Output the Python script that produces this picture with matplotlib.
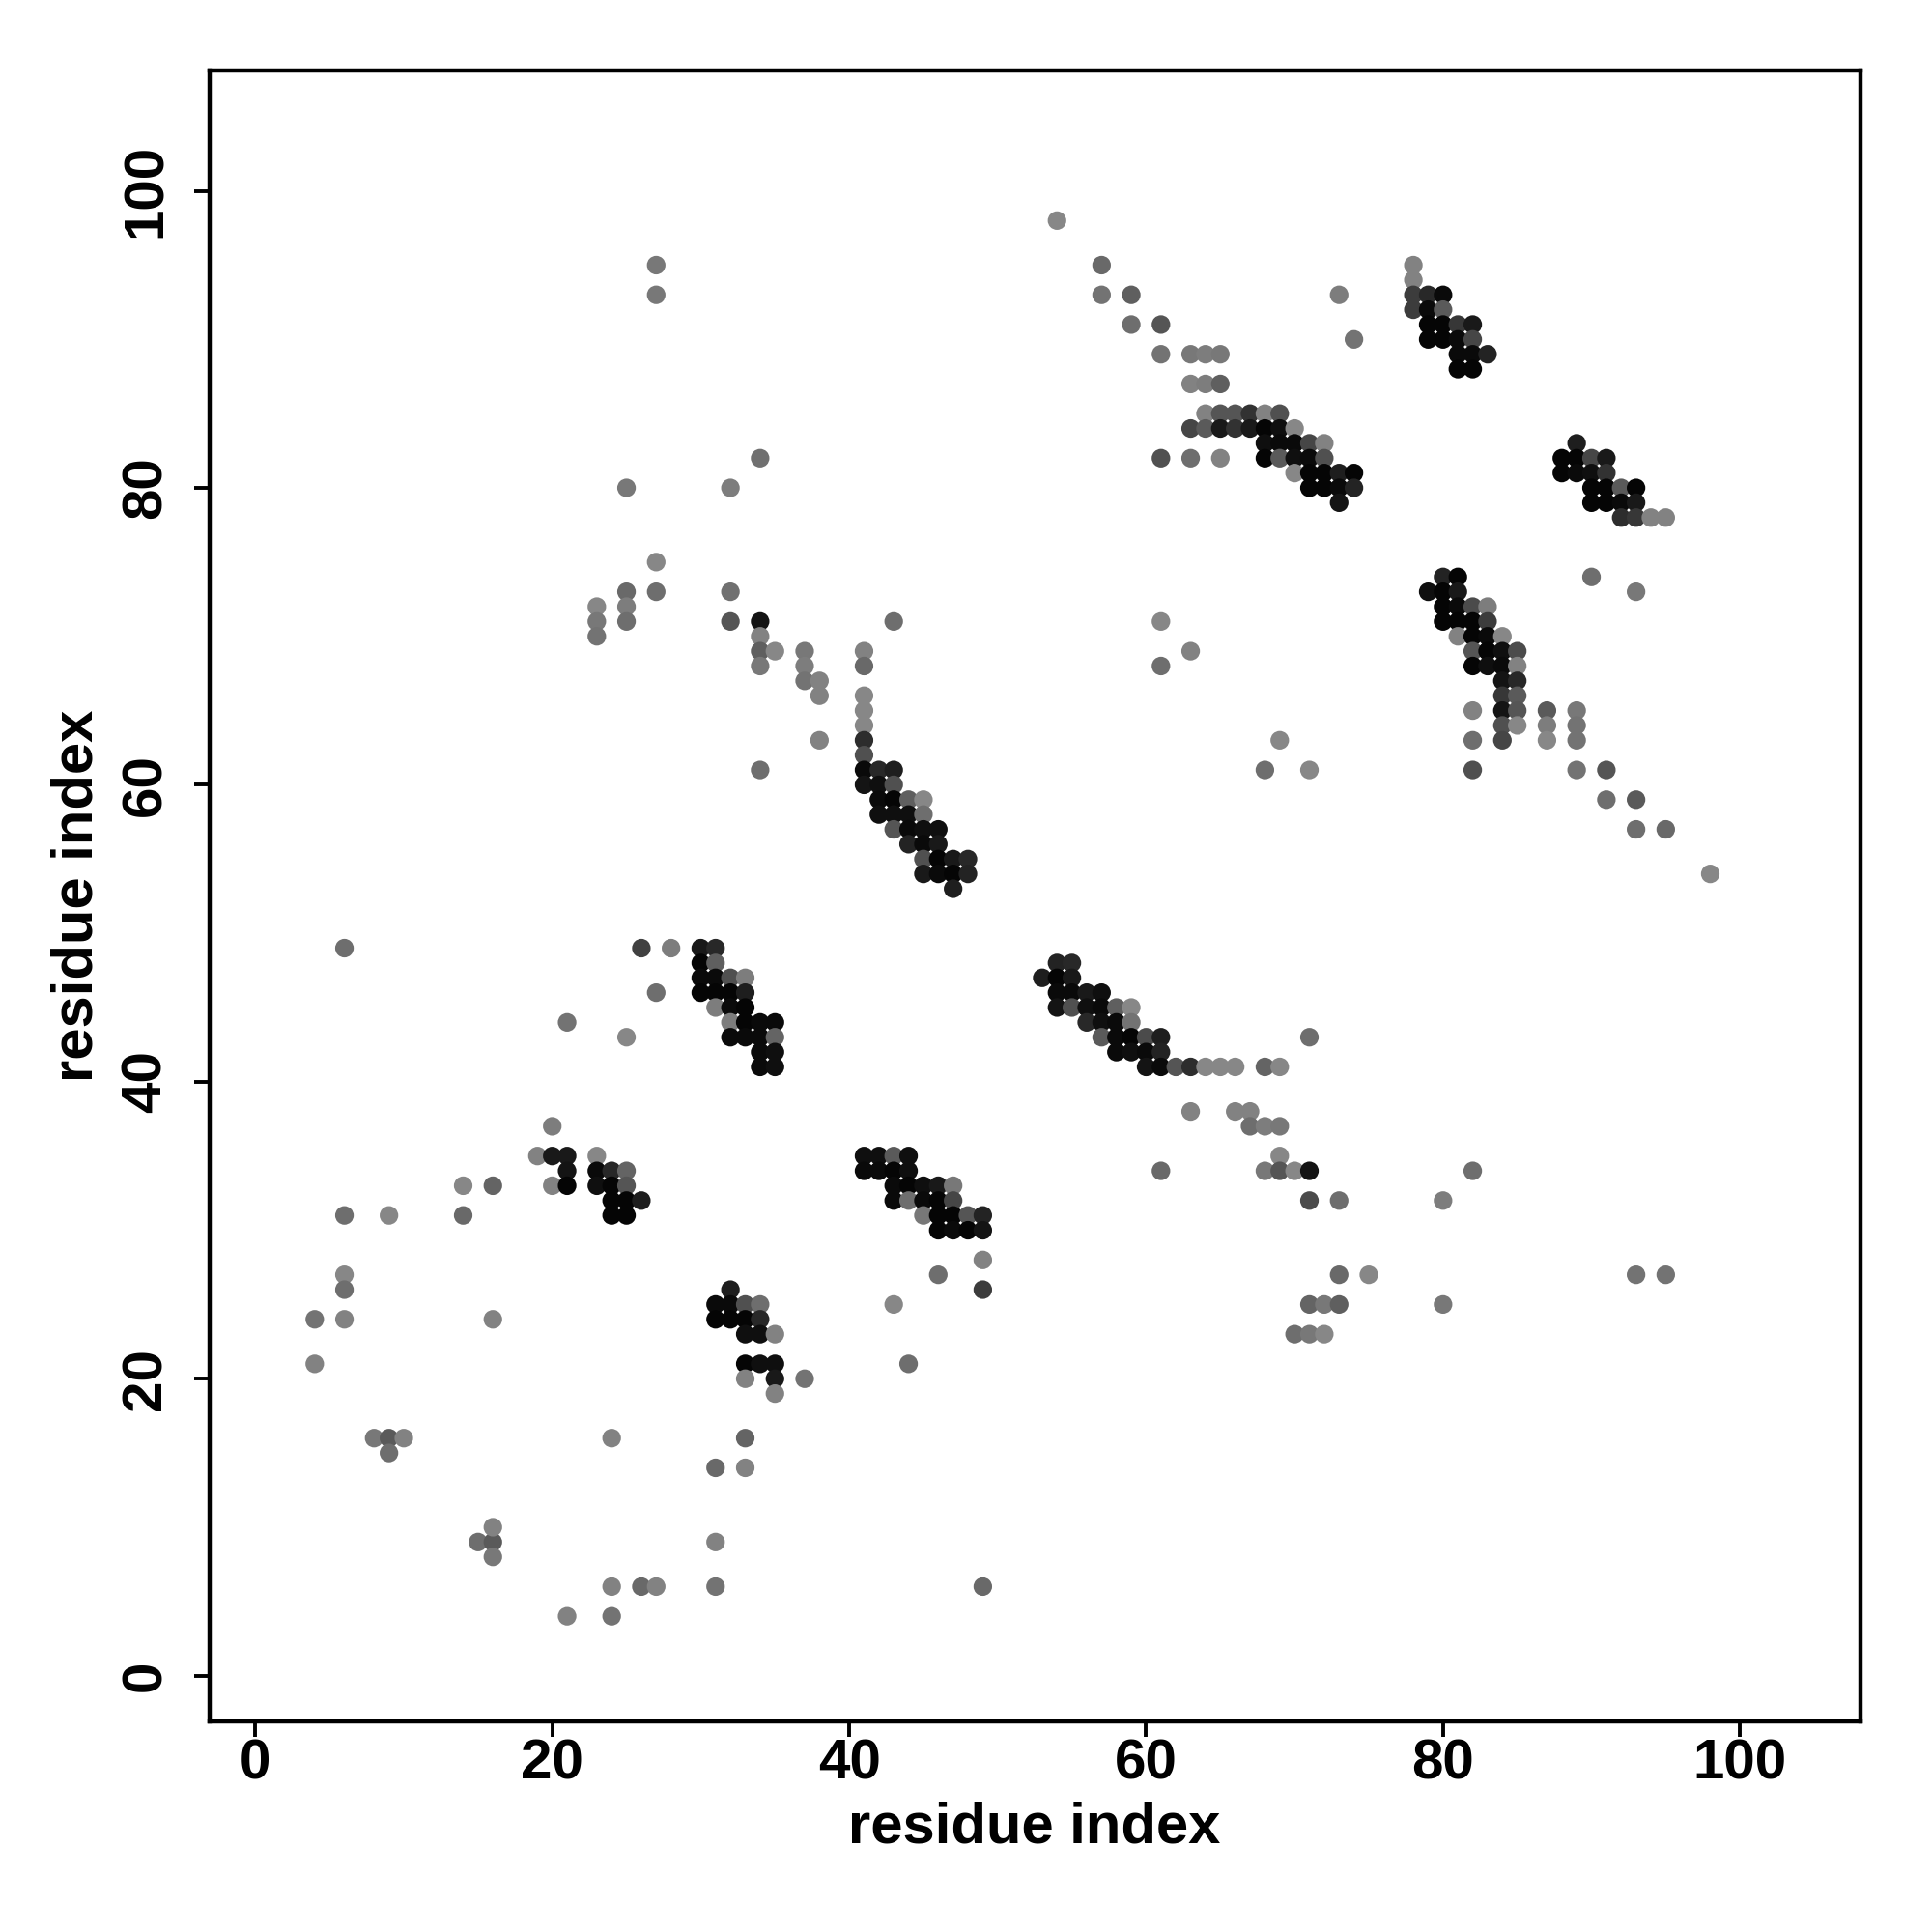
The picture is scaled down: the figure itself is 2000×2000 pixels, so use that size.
import matplotlib
matplotlib.use("Agg")
import matplotlib.pyplot as plt

# ---- contact data: residue i, residue j, grey level (0 = black, 255 = white) ----
res_i = [
    # scattered, lower left
    4, 4, 6, 6, 6, 6, 8, 9, 10, 9, 9, 14, 14, 16, 16, 15, 16, 16, 16,
    21, 24, 24, 26, 27, 31, 31, 31, 33, 33, 24, 37,
    # cluster 19-26 x 31-37
    20, 19, 20, 21, 23, 21, 23, 24, 25, 20, 21, 23, 24, 25, 24, 25, 26, 24, 25,
    # cluster 31-35 x 19-26
    32, 31, 32, 33, 34, 31, 32, 33, 34, 33, 34, 35, 33, 34, 35, 33, 35, 35,
    # cluster 26-35 x 41-49
    6, 21, 25, 26, 28, 30, 31, 30, 31, 30, 31, 32, 33, 27, 30, 31, 32, 33,
    31, 32, 33, 32, 33, 34, 35, 32, 33, 34, 35, 34, 35, 34, 35,
    # cluster 41-49 x 26-35
    41, 42, 43, 44, 41, 42, 43, 44, 43, 44, 45, 46, 47, 43, 44, 45, 46, 47,
    45, 46, 47, 48, 49, 46, 47, 48, 49, 49, 46, 49, 43, 44, 49,
    # scattered, upper left
    27, 27, 34, 25, 32, 27, 25, 27, 32, 23, 23, 23, 25, 25, 32, 34, 34, 34, 35, 34,
    34, 37, 37, 37, 38, 38, 38, 43,
    # cluster 41-48 x 53-69
    41, 41, 41, 41, 41, 41, 41, 41, 42, 43, 41, 42, 43, 42, 43, 44, 45,
    42, 43, 44, 45, 43, 44, 45, 46, 44, 45, 46, 45, 46, 47, 48, 45, 46, 47, 48, 47,
    # cluster 53-71 x 32-48
    54, 55, 53, 54, 55, 54, 55, 56, 57, 54, 55, 56, 57, 58, 59, 56, 57, 58, 59,
    57, 58, 59, 60, 61, 58, 59, 60, 61, 60, 61, 62, 63, 64, 65, 66, 68, 69,
    71, 63, 66, 67, 67, 68, 69, 69, 61, 68, 69, 70, 71, 82, 71, 73, 80,
    # scattered, lower right
    73, 75, 93, 95, 71, 72, 73, 80, 70, 71, 72,
    # upper middle band
    54, 57, 57, 59, 59, 61, 61, 63, 64, 65, 63, 64, 65,
    64, 65, 66, 67, 68, 69, 63, 64, 65, 66, 67, 68, 69, 70,
    68, 69, 70, 71, 72, 61, 63, 65, 68, 69, 70, 71, 72,
    70, 71, 72, 73, 74, 71, 72, 73, 74, 73, 73, 74,
    # upper right clusters
    78, 78, 78, 79, 80, 78, 79, 80, 79, 80, 81, 82, 79, 80, 81, 82, 81, 82, 83, 81, 82,
    89, 88, 89, 90, 91, 88, 89, 90, 91, 90, 91, 92, 93, 90, 91, 92, 93, 92, 93, 94, 95,
    90, 93,
    # right middle cluster
    80, 81, 79, 80, 81, 80, 81, 82, 83, 80, 81, 82, 83, 81, 82, 83, 84,
    82, 83, 84, 85, 82, 83, 84, 85, 84, 85, 84, 85, 82, 84, 85, 87, 89,
    84, 85, 87, 89, 82, 84, 87, 89, 69, 68, 71, 82, 89, 91, 91, 93, 93, 95, 98,
    61, 61, 63,
]

res_j = [
    24, 21, 31, 27, 26, 24, 16, 16, 16, 15, 31, 33, 31, 33, 24, 9, 9, 10, 8,
    4, 4, 6, 6, 6, 6, 9, 14, 14, 16, 16, 20,
    37, 35, 35, 35, 35, 34, 34, 34, 34, 33, 33, 33, 33, 33, 32, 32, 32, 31, 31,
    26, 25, 25, 25, 25, 24, 24, 24, 24, 23, 23, 23, 21, 21, 21, 20, 20, 19,
    49, 44, 43, 49, 49, 49, 49, 48, 48, 47, 47, 47, 47, 46, 46, 46, 46, 46,
    45, 45, 45, 44, 44, 44, 44, 43, 43, 43, 43, 42, 42, 41, 41,
    35, 35, 35, 35, 34, 34, 34, 34, 33, 33, 33, 33, 33, 32, 32, 32, 32, 32,
    31, 31, 31, 31, 31, 30, 30, 30, 30, 28, 27, 26, 25, 21, 6,
    95, 93, 82, 80, 80, 75, 73, 73, 73, 72, 71, 70, 72, 71, 71, 71, 70, 69, 69, 68,
    61, 69, 68, 67, 67, 66, 63, 71,
    69, 68, 66, 65, 64, 63, 62, 61, 61, 61, 60, 60, 60, 59, 59, 59, 59,
    58, 58, 58, 58, 57, 57, 57, 57, 56, 56, 56, 55, 55, 55, 55, 54, 54, 54, 54, 53,
    48, 48, 47, 47, 47, 46, 46, 46, 46, 45, 45, 45, 45, 45, 45, 44, 44, 44, 44,
    43, 43, 43, 43, 43, 42, 42, 42, 42, 41, 41, 41, 41, 41, 41, 41, 41, 41,
    43, 38, 38, 38, 37, 37, 37, 35, 34, 34, 34, 34, 34, 34, 32, 32, 32,
    27, 27, 27, 27, 25, 25, 25, 25, 23, 23, 23,
    98, 95, 93, 93, 91, 91, 89, 89, 89, 89, 87, 87, 87,
    85, 85, 85, 85, 85, 85, 84, 84, 84, 84, 84, 84, 84, 84,
    83, 83, 83, 83, 83, 82, 82, 82, 82, 82, 82, 82, 82,
    81, 81, 81, 81, 81, 80, 80, 80, 80, 79, 93, 90,
    95, 94, 93, 93, 93, 92, 92, 92, 91, 91, 91, 91, 90, 90, 90, 90, 89, 89, 89, 88, 88,
    83, 82, 82, 82, 82, 81, 81, 81, 81, 80, 80, 80, 80, 79, 79, 79, 79, 78, 78, 78, 78,
    74, 73,
    74, 74, 73, 73, 73, 72, 72, 72, 72, 71, 71, 71, 71, 70, 70, 70, 70,
    69, 69, 69, 69, 68, 68, 68, 68, 67, 67, 66, 66, 65, 65, 65, 65, 65,
    64, 64, 64, 64, 63, 63, 63, 63, 63, 61, 61, 61, 61, 61, 59, 59, 57, 57, 54,
    71, 68, 69,
]

grey = [
    115, 130, 110, 135, 110, 130, 120, 90, 130, 110, 135, 135, 105, 100, 130, 110, 90, 130, 120,
    130, 115, 130, 105, 130, 115, 130, 105, 130, 100, 130, 115,
    125, 130, 25, 25, 135, 20, 10, 40, 100, 130, 5, 15, 5, 85, 5, 5, 30, 5, 5,
    30, 10, 10, 80, 110, 5, 5, 5, 40, 15, 15, 130, 5, 15, 15, 130, 25, 130,
    110, 115, 135, 65, 125, 25, 40, 5, 95, 10, 10, 80, 125, 110, 5, 5, 5, 30,
    125, 10, 5, 125, 5, 10, 10, 10, 10, 10, 100, 10, 15, 10, 15,
    15, 15, 90, 15, 10, 10, 5, 15, 10, 5, 15, 25, 120, 10, 110, 10, 5, 70,
    120, 5, 5, 85, 35, 5, 10, 5, 20, 130, 110, 60, 135, 110, 105,
    120, 120, 112, 120, 125, 135, 105, 110, 112, 135, 120, 115, 125, 110, 85, 20, 130, 95, 135, 120,
    110, 120, 125, 115, 130, 130, 130, 110,
    130, 105, 135, 135, 135, 45, 80, 10, 40, 30, 20, 15, 80, 10, 5, 95, 135,
    15, 15, 15, 110, 85, 10, 15, 15, 35, 10, 25, 80, 5, 25, 40, 25, 10, 5, 35, 30,
    35, 40, 30, 5, 25, 10, 10, 25, 15, 20, 80, 15, 10, 95, 135, 40, 15, 10, 115,
    90, 10, 5, 75, 30, 10, 15, 10, 35, 20, 10, 85, 45, 135, 135, 135, 100, 135,
    110, 130, 130, 130, 110, 125, 120, 135, 105, 120, 85, 135, 20, 110, 75, 110, 125,
    105, 135, 115, 115, 100, 120, 95, 120, 110, 120, 135,
    135, 105, 115, 95, 110, 85, 115, 120, 125, 120, 130, 125, 95,
    130, 85, 85, 50, 130, 80, 70, 90, 25, 50, 25, 5, 15, 135,
    15, 10, 10, 70, 130, 80, 110, 130, 5, 90, 15, 10, 80,
    135, 5, 5, 30, 5, 5, 5, 10, 35, 20, 125, 115,
    130, 130, 60, 40, 10, 60, 10, 90, 5, 5, 55, 25, 5, 5, 10, 70, 10, 10, 35, 5, 5,
    30, 5, 5, 70, 25, 5, 10, 15, 50, 5, 5, 90, 5, 5, 5, 10, 25, 45, 55, 130, 130,
    110, 120,
    35, 5, 15, 5, 25, 5, 10, 75, 125, 5, 5, 5, 60, 130, 5, 10, 135,
    85, 5, 15, 75, 5, 15, 10, 130, 20, 40, 55, 90, 130, 20, 85, 90, 120,
    80, 135, 125, 115, 110, 70, 135, 115, 135, 110, 135, 80, 115, 85, 110, 90, 110, 105, 135,
    135, 110, 130,
]

assert len(res_i) == len(res_j) == len(grey)

xlim = (-3.08, 108.12)
ylim = (-3.08, 108.12)
xticks = [0, 20, 40, 60, 80, 100]
yticks = [0, 20, 40, 60, 80, 100]
xlabel = "residue index"
ylabel = "residue index"

plt.rcParams["font.family"] = ["Liberation Sans", "DejaVu Sans"]

fig = plt.figure(figsize=(10, 10), dpi=200)
ax = fig.add_axes([0.1085, 0.109, 0.963 - 0.1085, 0.9636 - 0.109])

colors = [(g / 255.0, g / 255.0, g / 255.0) for g in grey]
ax.scatter(res_i, res_j, s=48, c=colors, marker="o", linewidths=0, zorder=3)

ax.set_xlim(*xlim)
ax.set_ylim(*ylim)
ax.set_xticks(xticks)
ax.set_yticks(yticks)
ax.set_xticklabels([str(t) for t in xticks], fontsize=21, fontweight="bold")
ax.set_yticklabels([str(t) for t in yticks], fontsize=21, fontweight="bold",
                   rotation=90, va="center")
ax.tick_params(axis="both", direction="out", length=5.8, width=1.4)
ax.tick_params(axis="x", pad=0.5)
ax.tick_params(axis="y", pad=8.0)
for sp in ax.spines.values():
    sp.set_linewidth(1.6)

fig.text(0.5355, 1 - 1892 / 2000, xlabel, ha="center", va="center",
         fontsize=21.5, fontweight="bold")
fig.text(80 / 2000, 0.5365, ylabel, ha="center", va="center", rotation=90,
         fontsize=21.5, fontweight="bold")

fig.savefig("out.png", dpi=200, facecolor="white")
